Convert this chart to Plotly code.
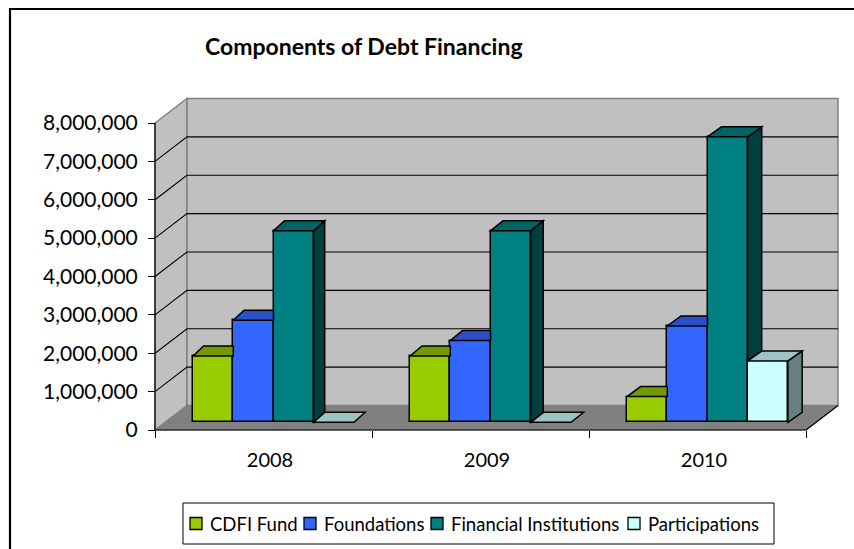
import plotly.graph_objects as go

# ---------------- data ----------------
categories = ["2008", "2009", "2010"]
series_names = ["CDFI Fund", "Foundations", "Financial Institutions", "Participations"]
cdfi_fund = [1730000, 1730000, 670000]
foundations = [2660000, 2130000, 2510000]
financial_institutions = [4990000, 4990000, 7440000]
participations = [0, 0, 1600000]
y_tick_values = [0, 1000000, 2000000, 3000000, 4000000, 5000000, 6000000, 7000000, 8000000]
y_tick_labels = ["0", "1,000,000", "2,000,000", "3,000,000", "4,000,000",
                 "5,000,000", "6,000,000", "7,000,000", "8,000,000"]
title_text = "Components of Debt Financing"

series_values = [cdfi_fund, foundations, financial_institutions, participations]
front_colors = ["#99CC00", "#3366FF", "#008080", "#CCFFFF"]
top_colors = ["#739900", "#2A50C8", "#006464", "#9CC4C4"]
side_colors = ["#4D6600", "#1A3399", "#004040", "#668080"]

# ---------------- geometry (pixels) ----------------
W, H = 854, 549
ML, MR, MT, MB = 145, 10, 88, 99
PW, PH = W - ML - MR, H - MT - MB
X_FRONT = 155.0      # pixel of x=-0.5 on the front plane
XUNIT = 217.0        # pixels per category
Y_ZERO = 430.0       # pixel of value 0 on the front plane
YUNIT = 38.375       # pixels per 1,000,000
YMAX = 8000000

def xv(px):
    return -0.5 + (px - X_FRONT) / XUNIT

def yv(py):
    return (Y_ZERO - py) / YUNIT * 1e6

def dx_units(px):
    return px / XUNIT

def dy_units(px):
    return px / YUNIT * 1e6

def paper_x(px):
    return (px - ML) / PW

def paper_y(py):
    return 1 - (py - MT) / PH

n_cat = len(categories)
XL, XR = -0.5, n_cat - 0.5
DX, DY = dx_units(32), dy_units(24.5)          # wall depth
FX, FY = dx_units(10), dy_units(7.7)           # front face of bars
BW = dx_units(40.2)                            # bar width
CDY = dy_units(10)                             # bar depth (vertical)

def cap_dx(x_right):
    return dx_units(11 + 1.5 * (x_right - 0.23))

def path(points):
    return "M " + " L ".join(f"{x},{y}" for x, y in points) + " Z"

def openpath(points):
    return "M " + " L ".join(f"{x},{y}" for x, y in points)

shapes = []
# walls and floor
shapes.append(dict(type="path", xref="x", yref="y", layer="below",
                   path=path([(XL, 0), (XL, YMAX), (XL + DX, YMAX + DY), (XL + DX, DY)]),
                   fillcolor="#C0C0C0", line=dict(color="#808080", width=1.5)))
shapes.append(dict(type="path", xref="x", yref="y", layer="below",
                   path=path([(XL + DX, DY), (XL + DX, YMAX + DY), (XR + DX, YMAX + DY), (XR + DX, DY)]),
                   fillcolor="#C0C0C0", line=dict(color="#808080", width=1.5)))
for v in y_tick_values[1:-1]:
    shapes.append(dict(type="path", xref="x", yref="y", layer="below",
                       path=openpath([(XL, v), (XL + DX, v + DY), (XR + DX, v + DY)]),
                       line=dict(color="#000000", width=1.1)))
shapes.append(dict(type="path", xref="x", yref="y", layer="below",
                   path=path([(XL, 0), (XL + DX, DY), (XR + DX, DY), (XR, 0)]),
                   fillcolor="#808080", line=dict(color="#808080", width=1)))
shapes.append(dict(type="path", xref="x", yref="y", layer="below",
                   path=openpath([(XR, 0), (XR + DX, DY)]),
                   line=dict(color="#000000", width=1.2)))
shapes.append(dict(type="line", xref="x", yref="y", layer="below",
                   x0=XL, y0=0, x1=XR, y1=0, line=dict(color="#000000", width=1.2)))
shapes.append(dict(type="line", xref="x", yref="y", layer="below",
                   x0=XL, y0=0, x1=XL, y1=YMAX, line=dict(color="#000000", width=1.2)))

# bar sides and tops
for i in range(n_cat):
    hs = [s[i] for s in series_values]
    for k in range(len(series_values)):
        L = i + FX + (k - 2) * BW
        R = L + BW
        h = FY + hs[k]
        cdx = cap_dx(R)
        nxt = hs[k + 1] if k + 1 < len(hs) else 0
        if hs[k] > nxt:
            lo = FY + nxt
            shapes.append(dict(type="path", xref="x", yref="y", layer="above",
                               path=path([(R, lo), (R, h), (R + cdx, h + CDY), (R + cdx, lo + CDY)]),
                               fillcolor=side_colors[k], line=dict(color="#000000", width=1.5)))
        if k + 1 < len(hs) and nxt > hs[k]:
            pts = [(L, h), (R, h), (R, h + CDY), (L + cdx, h + CDY)]
        else:
            pts = [(L, h), (R, h), (R + cdx, h + CDY), (L + cdx, h + CDY)]
        shapes.append(dict(type="path", xref="x", yref="y", layer="above",
                           path=path(pts), fillcolor=top_colors[k],
                           line=dict(color="#000000", width=1.5)))

# outer chart border
shapes.append(dict(type="rect", xref="paper", yref="paper",
                   x0=paper_x(10), y0=paper_y(9), x1=paper_x(880), y1=paper_y(580),
                   line=dict(color="#000000", width=2.2), fillcolor="rgba(0,0,0,0)"))

FONT = "Lato, Calibri, Carlito, sans-serif"

# legend (drawn manually to match the compact layout)
LEG_BOX = (183, 503, 774, 544)
LEG_SYMBOL_X = [190, 304, 431, 628]
LEG_TEXT_X = [208, 322, 449, 646]
LEG_MID = 523.5
shapes.append(dict(type="rect", xref="paper", yref="paper", layer="below",
                   x0=paper_x(LEG_BOX[0]), y0=paper_y(LEG_BOX[1]),
                   x1=paper_x(LEG_BOX[2]), y1=paper_y(LEG_BOX[3]),
                   line=dict(color="#000000", width=1), fillcolor="#FFFFFF"))
annotations = []
for k, name in enumerate(series_names):
    shapes.append(dict(type="rect", xref="paper", yref="paper",
                       x0=paper_x(LEG_SYMBOL_X[k]), x1=paper_x(LEG_SYMBOL_X[k] + 12),
                       y0=paper_y(LEG_MID - 6), y1=paper_y(LEG_MID + 6),
                       fillcolor=front_colors[k], line=dict(color="#000000", width=1.3)))
    annotations.append(dict(text=name, xref="paper", yref="paper",
                            x=paper_x(LEG_TEXT_X[k]), y=paper_y(LEG_MID),
                            xanchor="left", yanchor="middle", showarrow=False,
                            font=dict(size=18.5, family=FONT, color="#000000")))

annotations.append(dict(text="<b>" + title_text + "</b>", xref="paper", yref="paper",
                        x=paper_x(364), y=paper_y(46), xanchor="center", yanchor="middle",
                        showarrow=False, font=dict(size=23, family=FONT, color="#000000")))

fig = go.Figure()
for k, name in enumerate(series_names):
    fig.add_trace(go.Bar(
        name=name,
        x=[i + FX for i in range(n_cat)],
        y=series_values[k],
        base=FY,
        width=BW,
        offset=(k - 2) * BW,
        marker=dict(color=front_colors[k], line=dict(color="#000000", width=1.5)),
        hoverinfo="skip",
        showlegend=False,
    ))

fig.update_layout(
    width=W, height=H,
    margin=dict(l=ML, r=MR, t=MT, b=MB, pad=0),
    paper_bgcolor="#FFFFFF",
    plot_bgcolor="rgba(0,0,0,0)",
    barmode="overlay",
    bargap=0,
    shapes=shapes,
    annotations=annotations,
    showlegend=False,
    font=dict(family=FONT, color="#000000", size=20),
    xaxis=dict(range=[xv(ML), xv(W - MR)], anchor="free", position=paper_y(Y_ZERO),
               tickmode="array", tickvals=[i + 0.03 for i in range(n_cat)], ticktext=categories,
               ticks="", showgrid=False, zeroline=False, showline=False,
               ticklabelstandoff=16, tickfont=dict(size=20),
               minor=dict(tickmode="array", tickvals=[XL + j for j in range(n_cat + 1)],
                          ticks="outside", ticklen=7, tickcolor="#000000", tickwidth=1.2,
                          showgrid=False),
               fixedrange=True),
    yaxis=dict(range=[yv(H - MB), yv(MT)], anchor="free", position=paper_x(X_FRONT),
               tickmode="array", tickvals=y_tick_values, ticktext=y_tick_labels,
               ticks="outside", ticklen=7, tickcolor="#000000", tickwidth=1.2,
               ticklabelstandoff=6,
               showgrid=False, zeroline=False, showline=False, tickfont=dict(size=21),
               fixedrange=True),
)

fig.write_html("out.html")
